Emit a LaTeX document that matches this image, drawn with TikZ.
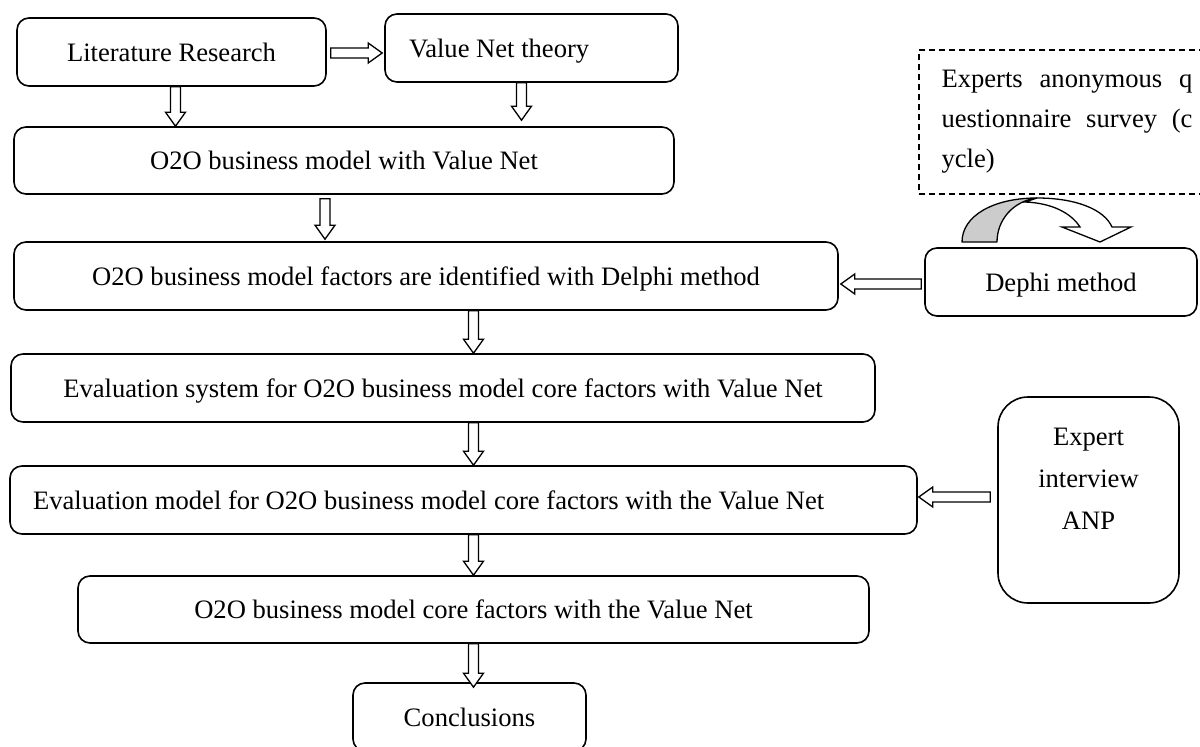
\documentclass[tikz,border=0pt]{standalone}
\usepackage{fontspec}
\setmainfont{Liberation Serif}
\usetikzlibrary{calc}

\begin{document}
\begin{tikzpicture}[x=1pt, y=-1pt, line join=round]
\newcommand{\shaftw}{5pt}
\newcommand{\headw}{10pt}
\newcommand{\headl}{14pt}

\tikzset{ frame/.style={draw, line width=1.6pt, rounded corners=12pt,
    inner sep=0pt, font={\fontsize{26.6}{42}\selectfont}},
  stage/.style={frame, minimum height=68pt, text height=18pt, text depth=0pt},
  survey/.style={frame, sharp corners, line width=1.4pt,
    dash pattern=on 6pt off 4pt, font={\fontsize{26.6}{40}\selectfont}},
  hollow/.style={draw, fill=white, line width=1.3pt, line join=miter,
    to path={($(\tikztostart)!\shaftw!90:(\tikztotarget)$)
      -- ($($(\tikztotarget)!\headl!(\tikztostart)$)!\shaftw!-90:(\tikztostart)$)
      -- ($($(\tikztotarget)!\headl!(\tikztostart)$)!\headw!-90:(\tikztostart)$)
      -- (\tikztotarget)
      -- ($($(\tikztotarget)!\headl!(\tikztostart)$)!\headw!90:(\tikztostart)$)
      -- ($($(\tikztotarget)!\headl!(\tikztostart)$)!\shaftw!90:(\tikztostart)$)
      -- ($(\tikztostart)!\shaftw!-90:(\tikztotarget)$) -- cycle}}
}

\useasboundingbox (0,0) rectangle (1200,747);

% main flow
\node[stage, minimum width=309pt] (lit) at (171.5,52) {Literature Research};
\node[stage, text width=245pt, inner xsep=24pt, align=flush left] (vn) at (531.5,48) {Value Net theory};
\node[stage, minimum width=660pt, minimum height=67pt] (o2ovn) at (344,160.5) {O2O business model with Value Net};
\node[stage, minimum width=824pt] (delphi) at (426,276) {O2O business model factors are identified with Delphi method};
\node[stage, minimum width=864pt] (evsys) at (443,388) {Evaluation system for O2O business model core factors with Value Net};
\node[stage, text width=861pt, inner xsep=23pt, align=flush left] (evmodel) at (463.5,500) {Evaluation model for O2O business model core factors with the Value Net};
\node[stage, minimum width=791pt, minimum height=67pt] (core) at (473.5,609.5) {O2O business model core factors with the Value Net};
\node[stage, minimum width=233pt] (concl) at (469.5,717) {Conclusions};

% methods on the right
\node[stage, minimum width=272pt] (dephi) at (1061,282) {Dephi method};
\node[frame, rounded corners=30pt, minimum width=181pt, minimum height=206pt, align=center] (expert) at (1088.5,500) {Expert\\interview\\ANP\\\mbox{}};
\node[survey, text width=251pt, inner xsep=22.5pt, minimum height=144pt, align=flush left] (quest) at (1067,122)
  {\makebox[251pt][s]{Experts anonymous q}\\\makebox[251pt][s]{uestionnaire survey (c}\\ycle)};

% cycle arrow over the Delphi box
\draw[line width=1.3pt, fill=gray!40] (962,242) .. controls (962,216) and (993,198) .. (1037,198)
  .. controls (1013,201) and (997,220) .. (997,242) -- cycle;
\draw[line width=1.3pt, fill=white, line join=miter] (1037,198) .. controls (1075,198) and (1104,209) .. (1112,227)
  -- (1131,227) -- (1100,242) -- (1062,227) -- (1080,227)
  .. controls (1071,213) and (1052,203) .. (1025,202) -- cycle;

% arrows
\draw[hollow] ($(lit.south)+(4,0)$) to ($(lit.south |- o2ovn.north)+(4,0)$);
\draw[hollow] ($(lit.east)+(4,1)$) to ($(lit.east -| vn.west)+(-2,1)$);
\draw[hollow] ($(vn.south)+(-10,0)$) to ($(vn.south |- o2ovn.north)+(-10,-6)$);
\draw[hollow] ($(o2ovn.south)+(-19,4)$) to ($(o2ovn.south |- delphi.north)+(-19,-2)$);
\draw[hollow] (delphi.south -| core) to (evsys.north -| core);
\draw[hollow] (evsys.south -| core) to (evmodel.north -| core);
\draw[hollow] (evmodel.south -| core) to (core.north);
\draw[hollow] (core.south) to ($(core.south |- concl.north)+(0,5)$);
\draw[hollow] ($(dephi.west)+(-3,2)$) to ($(dephi.west -| delphi.east)+(2,2)$);
\draw[hollow] ($(expert.west)+(-7,-3)$) to ($(expert.west -| evmodel.east)+(1,-3)$);

\end{tikzpicture}
\end{document}
